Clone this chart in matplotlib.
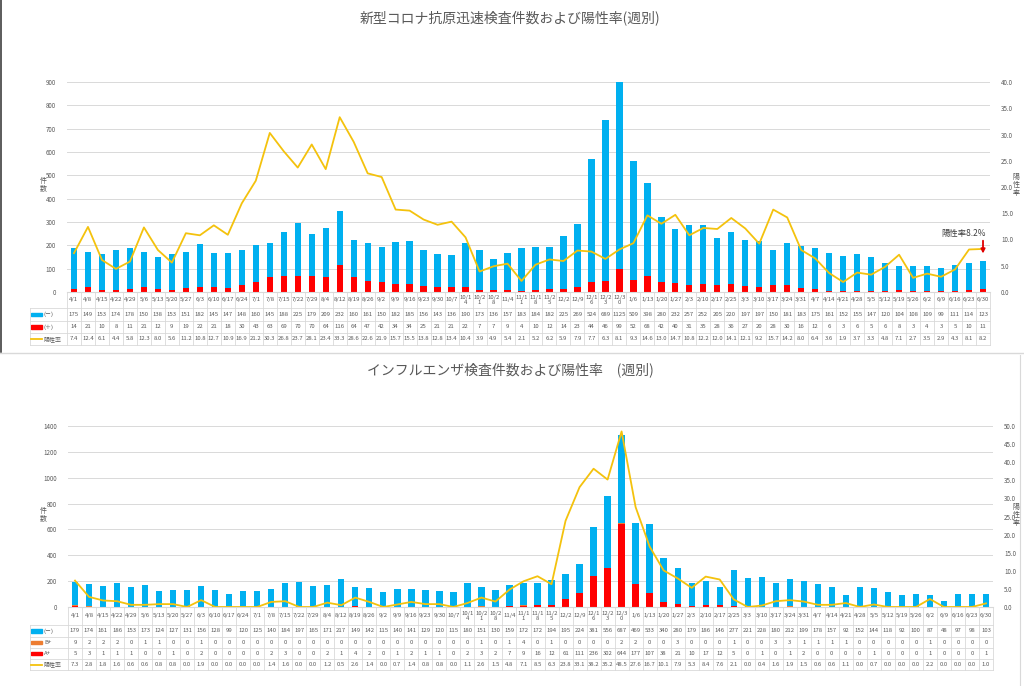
import numpy as np
import matplotlib
matplotlib.use("Agg")
import matplotlib.pyplot as plt
from matplotlib import transforms
from matplotlib.lines import Line2D
from matplotlib.patches import Rectangle

plt.rcParams['font.family'] = ['Noto Sans CJK JP', 'DejaVu Sans']

weeks = ["4/1", "4/8", "4/15", "4/22", "4/29", "5/6", "5/13", "5/20", "5/27", "6/3", "6/10", "6/17", "6/24",
         "7/1", "7/8", "7/15", "7/22", "7/29", "8/4", "8/12", "8/19", "8/26", "9/2", "9/9", "9/16", "9/23",
         "9/30", "10/7", "10/14", "10/21", "10/28", "11/4", "11/11", "11/18", "11/25", "12/2", "12/9",
         "12/16", "12/23", "12/30", "1/6", "1/13", "1/20", "1/27", "2/3", "2/10", "2/17", "2/25", "3/3",
         "3/10", "3/17", "3/24", "3/31", "4/7", "4/14", "4/21", "4/28", "5/5", "5/12", "5/19", "5/26",
         "6/2", "6/9", "6/16", "6/23", "6/30"]

# 新型コロナ抗原迅速検査
covid_neg = [175, 149, 153, 174, 178, 150, 138, 153, 151, 182, 145, 147, 148, 160, 145, 188, 225, 179, 209,
             232, 160, 161, 150, 182, 185, 156, 143, 136, 190, 173, 136, 157, 183, 184, 182, 225, 269, 524,
             689, 1125, 509, 398, 280, 232, 257, 252, 205, 220, 197, 197, 150, 181, 183, 175, 161, 152, 155,
             147, 120, 104, 108, 109, 99, 111, 114, 123]
covid_pos = [14, 21, 10, 8, 11, 21, 12, 9, 19, 22, 21, 18, 30, 43, 63, 69, 70, 70, 64, 116, 64, 47, 42, 34,
             34, 25, 21, 21, 22, 7, 7, 9, 4, 10, 12, 14, 23, 44, 46, 99, 52, 68, 42, 40, 31, 35, 28, 36, 27,
             20, 28, 30, 16, 12, 6, 3, 6, 5, 6, 8, 3, 4, 3, 5, 10, 11]
covid_rate = [7.4, 12.4, 6.1, 4.4, 5.8, 12.3, 8.0, 5.6, 11.2, 10.8, 12.7, 10.9, 16.9, 21.2, 30.3, 26.8, 23.7,
              28.1, 23.4, 33.3, 28.6, 22.6, 21.9, 15.7, 15.5, 13.8, 12.8, 13.4, 10.4, 3.9, 4.9, 5.4, 2.1,
              5.2, 6.2, 5.9, 7.9, 7.7, 6.3, 8.1, 9.3, 14.6, 13.0, 14.7, 10.8, 12.2, 12.0, 14.1, 12.1, 9.2,
              15.7, 14.2, 8.0, 6.4, 3.6, 1.9, 3.7, 3.3, 4.8, 7.1, 2.7, 3.5, 2.9, 4.3, 8.1, 8.2]

# インフルエンザ検査
flu_neg = [179, 174, 161, 186, 153, 173, 124, 127, 131, 156, 128, 99, 120, 125, 140, 184, 197, 165, 171, 217,
           149, 142, 115, 140, 141, 129, 120, 115, 180, 151, 130, 159, 172, 172, 194, 195, 224, 381, 556, 687,
           469, 533, 340, 280, 179, 186, 146, 277, 221, 228, 180, 212, 199, 178, 157, 92, 152, 144, 118, 92,
           100, 87, 48, 97, 98, 103]
flu_b = [9, 2, 2, 2, 0, 1, 1, 0, 0, 1, 0, 0, 0, 0, 0, 0, 0, 0, 0, 0, 0, 0, 0, 0, 0, 0, 0, 0, 0, 1, 0, 1, 4,
         0, 1, 0, 0, 0, 0, 2, 2, 0, 0, 3, 0, 0, 0, 1, 0, 0, 3, 3, 1, 1, 1, 1, 0, 0, 0, 0, 0, 1, 0, 0, 0, 0]
flu_a = [5, 3, 1, 1, 1, 0, 0, 1, 0, 2, 0, 0, 0, 0, 2, 3, 0, 0, 2, 1, 4, 2, 0, 1, 2, 1, 1, 0, 2, 3, 2, 7, 9,
         16, 12, 61, 111, 236, 302, 644, 177, 107, 38, 21, 10, 17, 12, 5, 0, 1, 0, 1, 2, 0, 0, 0, 0, 1, 0,
         0, 0, 1, 0, 0, 0, 1]
flu_rate = [7.3, 2.8, 1.8, 1.6, 0.6, 0.6, 0.8, 0.8, 0.0, 1.9, 0.0, 0.0, 0.0, 0.0, 1.4, 1.6, 0.0, 0.0, 1.2,
            0.5, 2.6, 1.4, 0.0, 0.7, 1.4, 0.8, 0.8, 0.0, 1.1, 2.6, 1.5, 4.8, 7.1, 8.5, 6.3, 23.8, 33.1, 38.2,
            35.2, 48.5, 27.6, 16.7, 10.1, 7.9, 5.3, 8.4, 7.6, 2.1, 0.0, 0.4, 1.6, 1.9, 1.5, 0.6, 0.6, 1.1,
            0.0, 0.7, 0.0, 0.0, 0.0, 2.2, 0.0, 0.0, 0.0, 1.0]

W, H = 1024, 686
BLUE = '#00B0F0'
RED = '#FF0000'
ORANGE = '#ED7D31'
GOLD = '#F4C20D'
GRID = '#D9D9D9'
TXT = '#595959'

fig = plt.figure(figsize=(W / 100, H / 100), dpi=100)


def fx(x):
    return x / W


def fy(y):
    return 1 - y / H


def draw_panel(top, bottom, left, right, ymax, ystep, rmax, title, title_y,
               stacks, rate, row_lines, label_y):
    ax = fig.add_axes([fx(left), fy(bottom), fx(right - left), (bottom - top) / H])
    n = len(weeks)
    xs = np.arange(n)
    base = np.zeros(n)
    # stacked bars, bottom series first
    for vals, color, _ in stacks:
        ax.bar(xs, vals, 0.45, bottom=base, color=color, zorder=2)
        base = base + np.array(vals)
    ax.set_xlim(-0.5, n - 0.5)
    ax.set_ylim(0, ymax)
    ax.set_yticks(np.arange(0, ymax + 1, ystep))
    ax.set_xticks([])
    ax.yaxis.grid(True, color=GRID, lw=0.7)
    ax.set_axisbelow(True)
    for s in ['top', 'right', 'left']:
        ax.spines[s].set_visible(False)
    ax.spines['bottom'].set_color(GRID)
    ax.tick_params(axis='y', length=0, labelsize=4.5, colors=TXT, pad=8)

    ax2 = ax.twinx()
    ax2.plot(xs, rate, color=GOLD, lw=1.3, zorder=3)
    ax2.set_ylim(0, rmax)
    ax2.set_yticks(np.arange(0, rmax + 0.1, 5))
    ax2.set_yticklabels([f"{v:.1f}" for v in np.arange(0, rmax + 0.1, 5)])
    ax2.tick_params(axis='y', length=0, labelsize=4.5, colors=TXT, pad=8)
    for s in ax2.spines.values():
        s.set_visible(False)

    fig.text(fx(510), fy(title_y), title, ha='center', va='center', fontsize=10, color=TXT)
    fig.text(fx(43), fy(label_y), "件\n数", ha='center', va='center', fontsize=5, color=TXT,
             linespacing=1.0)
    fig.text(fx(1016), fy(label_y), "陽\n性\n率", ha='center', va='center', fontsize=5, color=TXT,
             linespacing=1.0)

    # data table under the chart
    trans = transforms.blended_transform_factory(ax.transData, fig.transFigure)
    for y in row_lines[1:]:
        fig.add_artist(Line2D([fx(30), fx(right)], [fy(y), fy(y)], color=GRID, lw=0.6))
    for e in np.arange(n + 1) - 0.5:
        ax.add_line(Line2D([e, e], [fy(row_lines[0]), fy(row_lines[-1])], transform=trans,
                           color=GRID, lw=0.6, clip_on=False))
    fig.add_artist(Line2D([fx(30), fx(30)], [fy(row_lines[1]), fy(row_lines[-1])], color=GRID, lw=0.6))

    for i, w in enumerate(weeks):
        lab = w if len(w) < 5 else w[:4] + "\n" + w[4:]
        cy = (row_lines[0] + row_lines[1]) / 2
        ax.text(i, fy(cy), lab, transform=trans, ha='center', va='center', fontsize=4.3,
                color=TXT, linespacing=1.0)

    rows = [stacks[-1]] + stacks[:-1][::-1]
    for r, (vals, color, name) in enumerate(rows):
        cy = (row_lines[r + 1] + row_lines[r + 2]) / 2
        fig.add_artist(Rectangle((fx(31), fy(cy + 1.7)), fx(11), 3.4 / H, color=color))
        fig.text(fx(44), fy(cy), name, ha='left', va='center', fontsize=4.3, color=TXT)
        for i, v in enumerate(vals):
            ax.text(i, fy(cy), str(v), transform=trans, ha='center', va='center', fontsize=4.3,
                    color=TXT)
    cy = (row_lines[-2] + row_lines[-1]) / 2
    fig.add_artist(Line2D([fx(31), fx(42)], [fy(cy), fy(cy)], color=GOLD, lw=1.3))
    fig.text(fx(44), fy(cy), "陽性率", ha='left', va='center', fontsize=4.3, color=TXT)
    for i, v in enumerate(rate):
        ax.text(i, fy(cy), f"{v:.1f}", transform=trans, ha='center', va='center', fontsize=4.3,
                color=TXT)
    return ax, ax2


ax_c, ax_c2 = draw_panel(82, 292, 67, 990, 900, 100, 40,
                         "新型コロナ抗原迅速検査件数および陽性率(週別)", 18,
                         [(covid_pos, RED, "(＋)"), (covid_neg, BLUE, "(－)")],
                         covid_rate, [292, 308, 321, 333, 345], 185)

ax_f, ax_f2 = draw_panel(426, 607, 68, 993, 1400, 200, 50,
                         "インフルエンザ検査件数および陽性率　(週別)", 370,
                         [(flu_a, RED, "A+"), (flu_b, ORANGE, "B+"), (flu_neg, BLUE, "(－)")],
                         flu_rate, [607, 625, 637, 648, 659, 670], 515)

# latest positivity callout
last = len(weeks) - 1
ax_c2.text(last + 0.2, covid_rate[-1] + 3.0, "陽性率8.2%", ha='right', va='center', fontsize=6,
           color='#404040')
ax_c2.annotate('', xy=(last, covid_rate[-1] - 1.4), xytext=(last, covid_rate[-1] + 2.1),
               arrowprops=dict(arrowstyle='-|>', color='#E00000', lw=1.3, mutation_scale=6))

# panel borders as in the source screenshot
fig.add_artist(Line2D([fx(1), fx(1)], [fy(0), fy(352)], color='#404040', lw=1.2))
fig.add_artist(Line2D([0, 1], [fy(353), fy(353)], color=GRID, lw=1.0))
fig.add_artist(Line2D([fx(1020), fx(1020)], [fy(355), fy(686)], color=GRID, lw=0.8))

fig.savefig("out.png", dpi=100)
